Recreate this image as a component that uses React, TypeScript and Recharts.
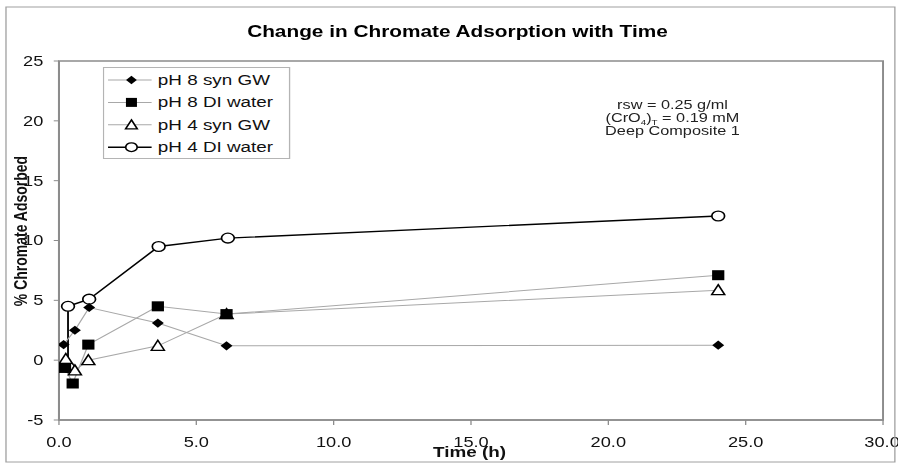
import React from 'react';
import { LineChart, Line, XAxis, YAxis, ReferenceArea, Legend } from 'recharts';

// ---- data ----
const seriesNames = ['pH 8 syn GW', 'pH 8 DI water', 'pH 4 syn GW', 'pH 4 DI water'];

const timeP8Syn = [0.17, 0.58, 1.1, 3.6, 6.1, 24.0];
const valP8Syn = [1.3, 2.5, 4.4, 3.1, 1.2, 1.25];

const timeP8DI = [0.22, 0.5, 1.07, 3.6, 6.1, 24.0];
const valP8DI = [-0.65, -1.95, 1.3, 4.5, 3.85, 7.1];

const timeP4Syn = [0.25, 0.58, 1.07, 3.6, 6.1, 24.0];
const valP4Syn = [0.1, -0.85, 0.0, 1.2, 3.85, 5.85];

const timeP4DI = [0.33, 0.33, 1.1, 3.63, 6.15, 24.0];
const valP4DI = [-0.6, 4.5, 5.1, 9.5, 10.2, 12.05];

const xTicks = [0, 5, 10, 15, 20, 25, 30];
const yTicks = [-5, 0, 5, 10, 15, 20, 25];

const zip = (xs: number[], ys: number[]) => xs.map((x, i) => ({ x, y: ys[i] }));
const dataP8Syn = zip(timeP8Syn, valP8Syn);
const dataP8DI = zip(timeP8DI, valP8DI);
const dataP4Syn = zip(timeP4Syn, valP4Syn);
const dataP4DI = zip(timeP4DI, valP4DI);

// ---- styling ----
const S = 898 / 690; // horizontal stretch of the original picture
const W = 690;
const H = 464;
const FONT = '"Liberation Sans", Arial, Helvetica, sans-serif';
const GRAY_LINE = '#a8a8a8';
const AXIS = '#8c8c8c';

type Shape = 'diamond' | 'square' | 'triangle' | 'circle';
const shapes: Shape[] = ['diamond', 'square', 'triangle', 'circle'];
const lineColors = [GRAY_LINE, GRAY_LINE, GRAY_LINE, '#000'];
const lineWidths = [1, 1, 1, 1.4];

function marker(shape: Shape, cx: number, cy: number, key?: string, k = 1) {
  switch (shape) {
    case 'diamond':
      return <path key={key} d={`M${cx},${cy - 4.6 * k}L${cx + 4.6 * k},${cy}L${cx},${cy + 4.6 * k}L${cx - 4.6 * k},${cy}Z`} fill="#000" />;
    case 'square':
      return <rect key={key} x={cx - 4.7 * k} y={cy - 5 * k} width={9.4 * k} height={10 * k} fill="#000" />;
    case 'triangle':
      return <path key={key} d={`M${cx},${cy - 5.5 * k}L${cx + 5 * k},${cy + 4.5 * k}L${cx - 5 * k},${cy + 4.5 * k}Z`} fill="#fff" stroke="#000" strokeWidth={1.3} />;
    default:
      return <circle key={key} cx={cx} cy={cy} r={4.9 * k} fill="#fff" stroke="#000" strokeWidth={1.3} />;
  }
}

const makeDot = (shape: Shape) => (props: any) => {
  const { cx, cy, index } = props;
  if (cx == null || cy == null) return <g key={`e-${shape}-${index}`} />;
  return marker(shape, cx, cy, `${shape}-${index}`);
};

const LegendBox = () => (
  <svg width={144} height={92} style={{ display: 'block', overflow: 'visible' }}>
    <rect x={0.5} y={0.5} width={143} height={91} fill="#fff" stroke="#b4b4b4" strokeWidth={1} />
    {seriesNames.map((name, i) => {
      const y = 13 + i * 22.4;
      return (
        <g key={name}>
          <line x1={4} x2={37.5} y1={y} y2={y} stroke={lineColors[i]} strokeWidth={lineWidths[i]} />
          {marker(shapes[i], 22, y, undefined, 0.9)}
          <text x={42.3} y={y + 5} fontSize={14.5} fontFamily={FONT} fill="#111">{name}</text>
        </g>
      );
    })}
  </svg>
);

export default function App() {
  return (
    <div style={{ position: 'absolute', left: 0, top: 0, width: 898, height: H, background: '#fff' }}>
      <div
        style={{
          position: 'absolute',
          left: 0,
          top: 0,
          width: W,
          height: H,
          transform: `scaleX(${S})`,
          transformOrigin: '0 0',
        }}
      >
        <LineChart width={W} height={H} margin={{ top: 61, right: 11.5, left: 0, bottom: 0 }}>
          <XAxis
            type="number"
            dataKey="x"
            domain={[0, 30]}
            ticks={xTicks}
            tickFormatter={(v: number) => v.toFixed(1)}
            height={44}
            tickSize={5}
            tickMargin={12}
            axisLine={{ stroke: AXIS, strokeWidth: 1.5 }}
            tickLine={{ stroke: AXIS }}
            tick={{ fontSize: 14, fill: '#111', fontFamily: FONT }}
            allowDataOverflow
          />
          <YAxis
            type="number"
            dataKey="y"
            domain={[-5, 25]}
            ticks={yTicks}
            width={45.3}
            tickSize={4}
            tickMargin={8}
            axisLine={{ stroke: AXIS, strokeWidth: 1.5 }}
            tickLine={{ stroke: AXIS }}
            tick={{ fontSize: 14, fill: '#111', fontFamily: FONT }}
            allowDataOverflow
          />
          <ReferenceArea x1={0} x2={30} y1={-5} y2={25} fill="none" fillOpacity={0} stroke={AXIS} strokeWidth={1.5} />
          <Legend
            layout="vertical"
            align="center"
            verticalAlign="middle"
            content={() => <LegendBox />}
            wrapperStyle={{ left: 79.2, top: 67, width: 144, height: 92 }}
          />
          <Line data={dataP4DI} dataKey="y" name={seriesNames[3]} stroke={lineColors[3]} strokeWidth={lineWidths[3]} dot={makeDot('circle')} activeDot={false} isAnimationActive={false} />
          <Line data={dataP4Syn} dataKey="y" name={seriesNames[2]} stroke={lineColors[2]} strokeWidth={lineWidths[2]} dot={makeDot('triangle')} activeDot={false} isAnimationActive={false} />
          <Line data={dataP8DI} dataKey="y" name={seriesNames[1]} stroke={lineColors[1]} strokeWidth={lineWidths[1]} dot={makeDot('square')} activeDot={false} isAnimationActive={false} />
          <Line data={dataP8Syn} dataKey="y" name={seriesNames[0]} stroke={lineColors[0]} strokeWidth={lineWidths[0]} dot={makeDot('diamond')} activeDot={false} isAnimationActive={false} />
        </LineChart>
        <svg
          width={W}
          height={H}
          style={{ position: 'absolute', left: 0, top: 0, pointerEvents: 'none', overflow: 'visible' }}
        >
          <rect x={4.6} y={7} width={683} height={455} fill="none" stroke="#a0a0a0" strokeWidth={1} />
          <text x={351.5} y={37} textAnchor="middle" fontSize={16} fontWeight="bold" fontFamily={FONT} fill="#000">
            Change in Chromate Adsorption with Time
          </text>
          <text
            transform="translate(20.4,231) rotate(-90)"
            textAnchor="middle"
            fontSize={14}
            fontWeight="bold"
            fontFamily={FONT}
            fill="#111"
          >
            % Chromate Adsorbed
          </text>
          <text x={360.8} y={457} textAnchor="middle" fontSize={14.5} fontWeight="bold" fontFamily={FONT} fill="#111">
            Time (h)
          </text>
          <g fontSize={12.5} fontFamily={FONT} fill="#222" textAnchor="middle">
            <text x={516.7} y={109.5}>rsw = 0.25 g/ml</text>
            <text x={516.7} y={122.3}>
              <tspan>(CrO</tspan>
              <tspan fontSize={7.5} dy={2.5}>4</tspan>
              <tspan dy={-2.5}>)</tspan>
              <tspan fontSize={7.5} dy={2.5}>T</tspan>
              <tspan dy={-2.5}> = 0.19 mM</tspan>
            </text>
            <text x={516.7} y={135}>Deep Composite 1</text>
          </g>
        </svg>
      </div>
    </div>
  );
}
